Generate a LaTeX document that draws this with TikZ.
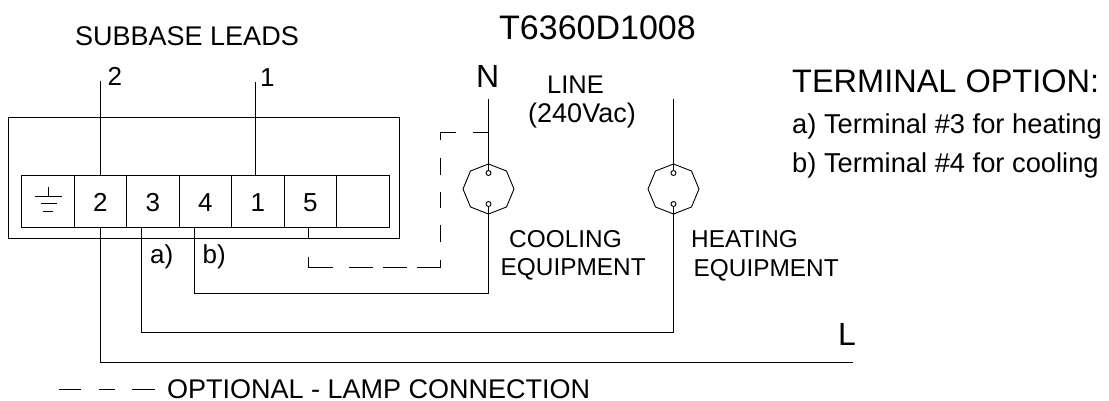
\documentclass[tikz,border=0pt]{standalone}
\usepackage{fontspec}
\setmainfont{Liberation Sans}
\tikzset{
  x=1pt,y=-1pt,
  wire/.style={draw=black,line width=1pt},
  txt/.style={inner sep=0pt,anchor=base west,text=black},
  lbl/.style={txt,font=\fontsize{26}{26}\selectfont},
  eq/.style={txt,font=\fontsize{24.4}{25}\selectfont},
  big/.style={txt,font=\fontsize{32}{32}\selectfont},
  lblc/.style={inner sep=0pt,anchor=base,text=black},
  termno/.style={inner sep=0pt,anchor=base,text=black,font=\fontsize{26}{26}\selectfont},
  pin/.style={circle,draw=black,line width=0.9pt,fill=white,minimum size=5pt,inner sep=0pt},
  dashpiece/.style={draw=black,line width=0.9pt},
}
\begin{document}
\begin{tikzpicture}
\useasboundingbox (0,0) rectangle (1109,401);
% housing
\node[draw=black,line width=1pt,minimum width=391pt,minimum height=121pt,inner sep=0pt,anchor=north west] (housing) at (8,117) {};
% terminal strip
\foreach \n/\x in {g/21,t2/73.5,t3/126,t4/178.5,t1/231,t5/283.5,te/336}{
  \node[draw=black,line width=1pt,minimum width=52.5pt,minimum height=52pt,inner sep=0pt,anchor=north west] (\n) at (\x,175) {};
}
\foreach \n/\t in {t2/2,t3/3,t4/4,t1/1,t5/5}{
  \node[termno] (lab\n) at ([yshift=-10pt]\n.center) {\t};
}
% ground symbol
\coordinate (g0) at (48,187);
\coordinate (g1) at (48,196);
\draw[wire,line width=0.8pt] (g0) -- (g1);
\draw[wire,line width=0.8pt] (35,196) -- (62,196);
\draw[wire,line width=0.8pt] (41,203.5) -- (57,203.5);
\draw[wire,line width=0.8pt] (43,211) -- (53,211);
% leads
\coordinate (l2) at (100.5,81);
\coordinate (l1) at (255.5,82);
\draw[wire] (l2) -- (100.5,175);
\draw[wire] (l1) -- (255.5,175);
\node[lbl] (n2) at (107.5,86) {2};
\node[lbl] (n1) at (260,87) {1};
\node[txt,font=\fontsize{27}{27}\selectfont] (sub) at (75,45.5) {SUBBASE LEADS};
\node[txt,font=\fontsize{34}{34}\selectfont] (model) at (499,40) {T6360D1008};
% equipment
\foreach \n/\x in {c/488.5,h/673.5}{
  \draw[wire,line width=0.9pt] (\x,164) -- (\x+18,171) -- (\x+25.5,189) -- (\x+18,207) -- (\x,214) -- (\x-18,207) -- (\x-25.5,189) -- (\x-18,171) -- cycle;
  \node[pin] (\n a) at (\x,173) {};
  \node[pin] (\n b) at (\x,204) {};
}
\coordinate (N) at (488.5,99);
\coordinate (H) at (673.5,99);
\draw[wire] (N) -- (ca);
\draw[wire] (H) -- (ha);
% wires
\draw[wire] (194.5,227) -- (194.5,293) -- (488.5,293) -- (cb);
\draw[wire] (141.5,227) -- (141.5,332) -- (673.5,332) -- (hb);
\draw[wire] (100.5,227) -- (100.5,362.5) -- (853,362.5);
\draw[wire] (308,227) -- (308,238);
% dashed
\draw[dashpiece] (308,257) -- (308,267) -- (333,267);
\draw[dashpiece] (349,267) -- (373,267);
\draw[dashpiece] (383,267) -- (407,267);
\draw[dashpiece] (417,267) -- (440,267) -- (440,260);
\draw[dashpiece] (440,242) -- (440,225);
\draw[dashpiece] (440,208) -- (440,192);
\draw[dashpiece] (440,175) -- (440,158);
\draw[dashpiece] (440,140) -- (440,132) -- (456,132);
\draw[dashpiece] (473,132) -- (488.5,132);
% texts
\node[big] (Nl) at (476,88) {N};
\node[lblc,font=\fontsize{25.5}{26}\selectfont] (line) at (575.5,94) {LINE};
\node[lblc,font=\fontsize{27}{27}\selectfont] (volt) at (582,123) {(240Vac)};
\node[lbl] (a) at (150,263) {a)};
\node[lbl] (b) at (202.5,263) {b)};
\node[eq] (cool) at (509,247) {COOLING};
\node[eq] (coole) at (500.5,275) {EQUIPMENT};
\node[eq] (heat) at (691,247) {HEATING};
\node[eq] (heate) at (693.5,276) {EQUIPMENT};
\node[txt,font=\fontsize{32.5}{33}\selectfont] (opt) at (792,93) {TERMINAL OPTION:};
\node[txt,font=\fontsize{27.3}{28}\selectfont] (opa) at (792,134) {a) Terminal \#3 for heating};
\node[txt,font=\fontsize{27.3}{28}\selectfont] (opb) at (792,172) {b) Terminal \#4 for cooling};
\node[big] (Ll) at (838,345) {L};
\node[txt,font=\fontsize{27}{27}\selectfont] (legend) at (167,398) {OPTIONAL - LAMP CONNECTION};
\draw[dashpiece] (59,389) -- (81,389);
\draw[dashpiece] (99,389) -- (115,389);
\draw[dashpiece] (132,389) -- (155,389);
\end{tikzpicture}
\end{document}
